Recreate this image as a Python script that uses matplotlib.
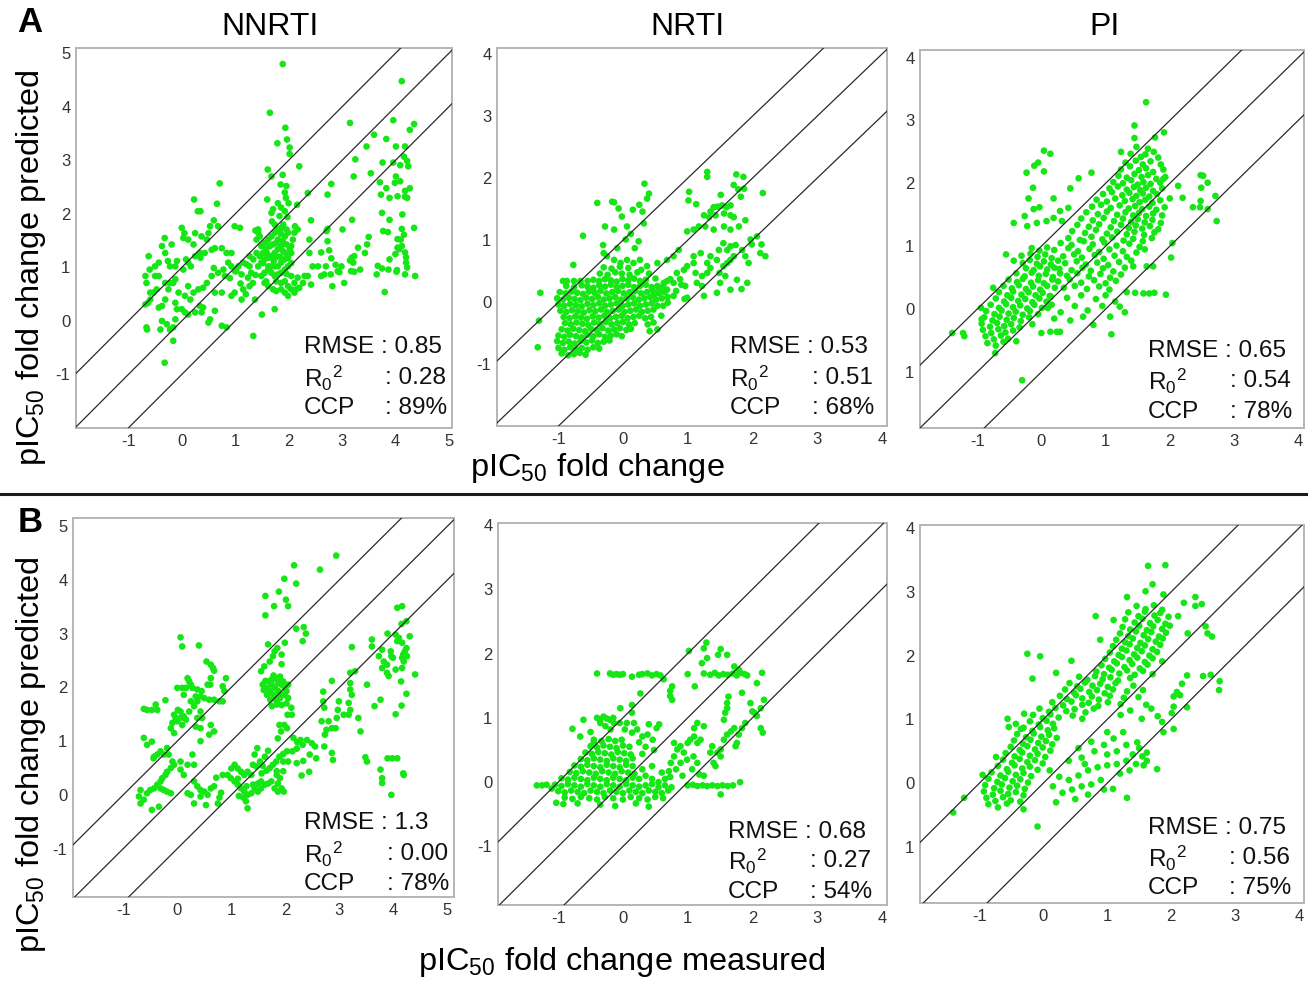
import numpy as np
import matplotlib
matplotlib.use('Agg')
import matplotlib.pyplot as plt
from matplotlib.lines import Line2D
from matplotlib.transforms import offset_copy

plt.rcParams['font.family'] = ['Liberation Sans', 'DejaVu Sans']
plt.rcParams['mathtext.fontset'] = 'custom'
plt.rcParams['mathtext.rm'] = 'Liberation Sans'
plt.rcParams['mathtext.it'] = 'Liberation Sans:italic'

# ---- data (measured, predicted) ----
nnrti_a = [
    (1.89, 4.80), (1.65, 3.89), (4.12, 4.48), (3.15, 3.70), (3.96, 3.75), (1.94, 3.61), (4.35, 3.68),
    (4.27, 3.57), (3.60, 3.48), (1.97, 3.39), (1.79, 3.32), (3.83, 3.40), (3.46, 3.26), (4.01, 3.26),
    (2.02, 3.24), (4.18, 3.26), (2.02, 3.12), (3.96, 2.96), (3.76, 2.96), (4.16, 3.07), (3.25, 3.02),
    (4.22, 2.99), (2.20, 2.89), (4.09, 2.91), (1.61, 2.83), (1.68, 2.70), (1.89, 2.73), (3.54, 2.76),
    (3.22, 2.70), (4.24, 2.89), (4.01, 2.70), (3.71, 2.59), (3.99, 2.58), (4.09, 2.61), (3.83, 2.48),
    (4.27, 2.48), (4.18, 2.43), (2.80, 2.56), (0.71, 2.57), (1.96, 2.52), (1.85, 2.55), (1.93, 2.40),
    (4.22, 2.30), (3.73, 2.36), (3.89, 2.30), (4.04, 2.33), (4.18, 2.32), (2.73, 2.36), (0.23, 2.27),
    (1.95, 2.30), (1.60, 2.27), (2.36, 2.39), (2.16, 2.17), (2.00, 2.20), (1.86, 2.12), (1.71, 2.09),
    (1.93, 2.05), (0.30, 2.05), (0.35, 2.05), (0.66, 2.19), (3.75, 2.02), (4.13, 1.99), (3.89, 1.89),
    (3.19, 1.89), (2.42, 1.88), (0.60, 1.88), (1.69, 1.86), (1.83, 1.96), (1.98, 1.94), (0.68, 1.77),
    (0.00, 1.74), (0.05, 1.64), (0.03, 1.55), (0.12, 1.52), (0.25, 1.64), (0.99, 1.77), (1.09, 1.74),
    (1.38, 1.69), (1.43, 1.71), (2.12, 1.77), (2.17, 1.71), (3.01, 1.71), (2.73, 1.72), (3.77, 1.68),
    (3.86, 1.66), (4.12, 1.72), (4.16, 1.61), (4.35, 1.74), (4.10, 1.52), (4.12, 1.40), (4.04, 1.53),
    (4.18, 1.28), (4.00, 1.25), (4.07, 1.34), (4.04, 1.37), (4.20, 1.19), (4.20, 1.09), (4.22, 1.00),
    (3.89, 1.15), (3.75, 0.98), (3.67, 1.03), (4.03, 0.95), (3.87, 0.96), (4.02, 0.92), (4.18, 0.87),
    (4.37, 0.84), (3.80, 0.54), (3.65, 0.87), (3.50, 1.57), (3.47, 1.43), (3.30, 1.37), (3.43, 1.27),
    (3.23, 1.21), (3.18, 1.18), (3.15, 1.13), (3.17, 0.93), (3.23, 0.92), (3.34, 0.96), (3.21, 1.09),
    (2.99, 1.02), (2.88, 1.05), (2.92, 0.93), (2.80, 1.17), (2.76, 1.32), (2.73, 1.49), (2.71, 1.68),
    (2.70, 1.02), (2.67, 0.87), (2.79, 0.87), (2.82, 0.65), (2.61, 0.84), (2.55, 1.02), (2.39, 1.27),
    (2.39, 1.52), (2.45, 1.02), (2.36, 0.84), (2.17, 0.81), (2.05, 0.84), (2.11, 0.71), (2.14, 0.59),
    (2.20, 0.62), (2.27, 0.71), (2.42, 0.68), (3.04, 0.71), (2.95, 0.91), (2.61, 1.28), (2.30, 0.84),
    (-0.68, 0.84), (-0.66, 0.71), (-0.60, 0.96), (-0.62, 1.21), (-0.50, 1.02), (-0.43, 1.09),
    (-0.32, 1.55), (-0.37, 1.40), (-0.31, 1.27), (-0.19, 1.43), (-0.26, 1.12), (-0.22, 1.02),
    (-0.12, 1.02), (-0.09, 1.12), (0.03, 0.96), (0.08, 1.15), (0.12, 1.09), (0.17, 1.02), (0.25, 1.21),
    (0.35, 1.18), (0.43, 1.27), (0.34, 1.27), (0.22, 1.43), (0.37, 1.58), (0.50, 1.64), (0.53, 1.77),
    (0.47, 1.52), (0.56, 1.33), (0.62, 1.36), (0.75, 1.36), (0.84, 1.27), (0.87, 1.09), (0.93, 1.27),
    (0.93, 1.02), (1.02, 0.93), (1.12, 0.87), (0.60, 0.99), (0.68, 0.90), (0.78, 0.96), (0.81, 0.84),
    (0.56, 0.84), (0.47, 0.71), (0.40, 0.62), (0.31, 0.59), (0.22, 0.53), (0.12, 0.65), (0.06, 0.47),
    (0.16, 0.40), (0.25, 0.16), (0.37, 0.16), (0.62, 0.19), (0.53, 0.03), (0.50, -0.03), (0.62, 0.53),
    (0.75, 0.53), (0.93, 0.47), (0.99, 0.53), (1.12, 0.40), (1.15, 0.59), (1.27, 0.65), (1.33, 0.71),
    (1.24, 0.81), (1.37, 0.40), (1.50, 0.12), (1.34, -0.28), (0.75, -0.09), (0.84, -0.12),
    (-0.06, 0.53), (-0.09, 0.22), (-0.12, 0.03), (-0.16, -0.12), (-0.16, -0.37), (-0.22, -0.16),
    (-0.28, -0.06), (-0.31, 0.40), (-0.37, 0.28), (-0.43, 0.25), (-0.47, 0.59), (-0.53, 0.53),
    (-0.59, 0.53), (-0.59, 0.40), (-0.63, 0.34), (-0.68, 0.31), (-0.66, -0.12), (-0.65, -0.16),
    (-0.37, 0.00), (-0.40, -0.16), (-0.32, -0.78), (-0.12, 0.34), (0.00, 0.22), (0.06, 0.16),
    (0.12, 0.12), (0.34, 0.28), (0.40, 0.25), (-0.25, 0.59), (-0.22, 0.71), (-0.16, 0.71),
    (-0.12, 0.78), (-0.31, 0.71), (-0.43, 0.84), (-0.50, 0.84),
    (1.00, 0.93), (1.06, 1.02), (1.15, 1.09), (1.21, 1.06), (1.27, 1.02), (1.43, 1.65), (1.40, 1.52),
    (1.46, 1.58), (1.49, 1.40), (1.55, 1.46), (1.62, 1.52), (1.68, 1.58), (1.74, 1.65), (1.80, 1.71),
    (1.86, 1.74), (1.96, 1.71), (1.99, 1.65), (1.93, 1.58), (1.86, 1.62), (1.80, 1.52), (1.89, 1.49),
    (1.96, 1.43), (1.86, 1.40), (1.80, 1.34), (1.74, 1.27), (1.68, 1.21), (1.62, 1.18), (1.55, 1.15),
    (1.49, 1.09), (1.43, 1.02), (1.62, 1.02), (1.68, 1.02), (1.74, 1.02), (1.80, 1.02), (1.86, 1.09),
    (1.93, 1.15), (1.99, 1.18), (2.05, 1.27), (2.02, 1.34), (2.05, 1.40), (2.08, 1.52), (2.11, 1.65),
    (1.99, 1.02), (1.93, 0.96), (1.86, 0.90), (1.80, 0.87), (1.74, 0.84), (1.68, 0.90), (1.62, 0.96),
    (1.55, 0.90), (1.49, 0.84), (1.55, 0.71), (1.62, 0.65), (1.71, 0.59), (1.77, 0.56), (1.86, 0.59),
    (1.93, 0.53), (1.99, 0.65), (2.05, 0.59), (2.11, 0.53), (1.99, 0.47), (1.74, 0.22), (1.86, 0.71),
    (1.77, 0.74), (1.93, 0.74), (1.58, 0.74), (1.52, 1.27), (1.46, 1.21), (1.40, 1.27), (1.34, 1.15),
    (1.27, 1.21), (1.58, 1.34), (1.65, 1.40), (1.71, 1.43), (1.77, 1.46), (1.74, 1.80), (1.68, 2.02),
    (1.80, 2.20), (1.90, 1.80), (1.84, 1.66), (1.78, 1.20), (1.96, 1.25), (1.90, 1.30), (1.84, 1.20),
    (1.72, 1.12), (1.60, 1.26), (1.52, 1.08), (1.96, 0.88), (2.05, 1.08), (1.20, 0.50), (1.10, 0.70),
    (0.90, 0.80), (1.30, 0.90), (1.38, 0.86),
]

nrti_a = [
    (2.16, 1.76), (1.30, 2.10), (1.30, 2.02), (1.75, 2.06), (1.86, 2.02), (0.33, 1.91), (0.40, 1.75),
    (0.37, 1.67), (0.25, 1.57), (0.15, 1.49), (-0.17, 1.62), (-0.14, 1.61), (-0.40, 1.60), (-0.07, 1.51),
    (0.30, 1.46), (1.02, 1.78), (1.01, 1.64), (1.13, 1.58), (1.51, 1.73), (1.71, 1.89), (1.78, 1.82),
    (1.82, 1.70), (1.87, 1.83), (1.40, 1.53), (1.46, 1.54), (1.53, 1.56), (1.60, 1.53), (1.66, 1.56),
    (1.35, 1.46), (1.25, 1.40), (1.33, 1.37), (1.43, 1.40), (1.56, 1.43), (1.66, 1.40), (1.71, 1.37),
    (-0.02, 1.38), (0.06, 1.22), (0.32, 1.27), (-0.28, 1.22), (-0.14, 1.17), (-0.62, 1.07), (0.12, 1.10),
    (0.04, 1.01), (0.24, 0.98), (0.18, 0.87), (-0.09, 0.87), (-0.31, 0.92), (-0.30, 0.79), (-0.25, 0.74),
    (-0.14, 0.68), (-0.04, 0.63), (0.06, 0.68), (0.16, 0.63), (0.26, 0.68), (0.37, 0.58), (0.53, 0.63),
    (0.68, 0.68), (0.78, 0.74), (0.86, 0.84), (0.99, 1.14), (1.09, 1.17), (1.17, 1.22), (1.27, 1.22),
    (1.40, 1.17), (1.56, 1.22), (1.66, 1.17), (1.79, 1.22), (1.89, 1.32), (1.48, 0.84), (1.55, 0.95),
    (1.61, 0.84), (1.66, 0.90), (1.74, 0.92), (1.84, 0.84), (1.89, 0.74), (1.94, 0.63), (2.07, 1.06),
    (2.14, 0.93), (2.12, 0.79), (2.20, 0.74), (1.97, 1.01), (1.99, 0.93), (1.49, 0.47), (1.55, 0.58),
    (1.61, 0.63), (1.66, 0.68), (1.71, 0.74), (1.50, 0.31), (1.58, 0.42), (1.66, 0.20), (1.76, 0.36),
    (1.83, 0.21), (1.92, 0.31), (1.45, 0.15), (0.78, 0.31), (0.88, 0.37), (0.96, 0.26), (0.99, 0.07),
    (0.95, 0.05), (1.14, 0.31), (1.22, 0.42), (1.30, 0.47), (1.35, 0.55), (1.09, 0.63), (1.12, 0.47),
    (1.22, 0.26), (1.25, 0.10), (0.99, 0.58), (1.09, 0.74), (1.20, 0.79), (1.30, 0.63), (1.35, 0.74),
    (1.45, 0.68), (0.53, 0.26), (0.63, 0.31), (0.73, 0.37), (0.83, 0.47), (0.94, 0.52), (0.56, 0.20),
    (0.68, 0.20), (0.78, 0.10), (0.47, 0.10), (0.59, -0.22), (0.53, -0.44), (0.47, -0.33), (0.62, -0.06),
    (0.69, -0.01), (-1.28, 0.15), (-1.30, -0.30), (-1.32, -0.73), (-0.77, 0.60), (-0.93, 0.34),
    (-0.87, 0.34), (-0.76, 0.34), (-0.66, 0.34), (-0.55, 0.34),
    (-0.95, -0.83), (-0.85, -0.86), (-0.76, -0.84), (-0.67, -0.82), (-0.58, -0.85),
    (-1.00, -0.74), (-0.91, -0.77), (-0.82, -0.73), (-0.73, -0.76), (-0.64, -0.74), (-0.55, -0.77),
    (-0.46, -0.73), (-0.37, -0.75),
    (-1.02, -0.63), (-0.93, -0.66), (-0.84, -0.64), (-0.75, -0.67), (-0.66, -0.63), (-0.57, -0.65),
    (-0.48, -0.62), (-0.39, -0.66), (-0.30, -0.64), (-0.21, -0.62),
    (-1.00, -0.54), (-0.91, -0.56), (-0.82, -0.53), (-0.73, -0.55), (-0.64, -0.57), (-0.55, -0.53),
    (-0.46, -0.55), (-0.37, -0.52), (-0.28, -0.56), (-0.19, -0.54), (-0.10, -0.52), (-0.02, -0.55),
    (-0.95, -0.44), (-0.86, -0.46), (-0.77, -0.43), (-0.68, -0.45), (-0.59, -0.47), (-0.50, -0.43),
    (-0.41, -0.45), (-0.32, -0.42), (-0.23, -0.46), (-0.14, -0.44), (-0.05, -0.42), (0.05, -0.45),
    (0.12, -0.43), (0.41, -0.47),
    (-0.90, -0.34), (-0.81, -0.36), (-0.72, -0.33), (-0.63, -0.35), (-0.54, -0.37), (-0.45, -0.33),
    (-0.36, -0.35), (-0.27, -0.32), (-0.18, -0.36), (-0.09, -0.34), (0.00, -0.32), (0.09, -0.36),
    (0.18, -0.34), (0.38, -0.36),
    (-0.92, -0.24), (-0.83, -0.26), (-0.74, -0.23), (-0.65, -0.25), (-0.56, -0.27), (-0.47, -0.23),
    (-0.38, -0.25), (-0.29, -0.22), (-0.20, -0.26), (-0.11, -0.24), (-0.02, -0.22), (0.07, -0.26),
    (0.16, -0.24), (0.25, -0.22), (0.34, -0.26), (0.43, -0.24),
    (-0.97, -0.14), (-0.88, -0.16), (-0.79, -0.13), (-0.70, -0.15), (-0.61, -0.17), (-0.52, -0.13),
    (-0.43, -0.15), (-0.34, -0.12), (-0.25, -0.16), (-0.16, -0.14), (-0.07, -0.12), (0.02, -0.16),
    (0.11, -0.14), (0.20, -0.12), (0.29, -0.16), (0.38, -0.14), (0.47, -0.12),
    (-1.00, -0.04), (-0.91, -0.06), (-0.82, -0.03), (-0.73, -0.05), (-0.64, -0.07), (-0.55, -0.03),
    (-0.46, -0.05), (-0.37, -0.02), (-0.28, -0.06), (-0.19, -0.04), (-0.10, -0.02), (-0.01, -0.06),
    (0.08, -0.04), (0.17, -0.02), (0.26, -0.06), (0.35, -0.04), (0.44, -0.02), (0.53, -0.06),
    (-1.02, 0.06), (-0.93, 0.04), (-0.84, 0.07), (-0.75, 0.05), (-0.66, 0.03), (-0.57, 0.07),
    (-0.48, 0.05), (-0.39, 0.08), (-0.30, 0.04), (-0.21, 0.06), (-0.12, 0.08), (-0.03, 0.04),
    (0.06, 0.06), (0.15, 0.08), (0.24, 0.04), (0.33, 0.06), (0.42, 0.08), (0.51, 0.04), (0.60, 0.06),
    (0.69, 0.08),
    (-0.98, 0.16), (-0.89, 0.14), (-0.80, 0.17), (-0.71, 0.15), (-0.62, 0.13), (-0.53, 0.17),
    (-0.44, 0.15), (-0.35, 0.18), (-0.26, 0.14), (-0.17, 0.16), (-0.08, 0.18), (0.01, 0.14),
    (0.10, 0.16), (0.19, 0.18), (0.28, 0.14), (0.37, 0.16), (0.46, 0.18), (0.55, 0.14), (0.64, 0.16),
    (0.82, 0.18),
    (-0.88, 0.26), (-0.76, 0.24), (-0.64, 0.27), (-0.55, 0.25), (-0.46, 0.23), (-0.37, 0.27),
    (-0.28, 0.25), (-0.19, 0.28), (-0.10, 0.24), (-0.01, 0.26), (0.08, 0.28), (0.17, 0.24),
    (0.26, 0.26), (0.35, 0.28), (0.44, 0.24), (0.62, 0.26), (0.90, 0.28),
    (-0.46, 0.36), (-0.37, 0.34), (-0.28, 0.37), (-0.19, 0.35), (-0.10, 0.33), (-0.01, 0.37),
    (0.08, 0.35), (0.17, 0.38), (0.26, 0.34), (0.35, 0.36), (0.50, 0.38), (0.68, 0.34),
    (-0.36, 0.46), (-0.24, 0.44), (-0.12, 0.48), (-0.02, 0.46), (0.10, 0.44), (0.22, 0.48), (0.40, 0.46),
    (-0.30, 0.56), (-0.18, 0.54), (-0.05, 0.57), (0.08, 0.55), (0.28, 0.52),
]

pi_a = [
    (1.63, 3.29), (1.45, 2.92), (1.91, 2.81), (1.45, 2.72), (1.77, 2.73), (0.04, 2.52), (0.14, 2.47),
    (-0.05, 2.33), (-0.11, 2.28), (-0.23, 2.17), (0.04, 2.19), (1.24, 2.50), (0.78, 2.17), (0.58, 2.08),
    (-0.13, 1.93), (0.45, 1.92), (-0.20, 1.76), (0.19, 1.76), (-0.12, 1.59), (-0.03, 1.62), (0.29, 1.56),
    (0.42, 1.61), (-0.26, 1.48), (-0.43, 1.37), (-0.22, 1.32), (-0.07, 1.37), (0.08, 1.40), (0.19, 1.45),
    (0.32, 1.40), (-0.55, 0.87), (-0.75, 0.34), (-0.94, 0.02), (-0.93, -0.16), (-1.39, -0.38),
    (-1.22, -0.38), (-1.20, -0.43), (-0.72, -0.70), (-0.30, -1.13), (0.00, -0.38), (0.14, -0.36),
    (0.24, -0.36), (0.29, -0.36), (0.81, -0.25), (1.09, -0.40), (1.07, -0.12), (1.30, -0.05),
    (1.22, 0.04), (1.33, 0.27), (1.46, 0.26), (1.59, 0.25), (1.68, 0.25), (1.76, 0.26), (1.94, 0.23),
    (1.74, 0.68), (2.02, 0.82), (2.04, 1.05), (2.73, 1.40), (2.71, 1.80), (2.59, 1.59), (2.48, 2.13),
    (2.52, 2.12), (2.59, 2.01), (2.49, 1.93), (2.48, 1.72), (2.36, 1.62), (2.47, 1.62), (2.20, 1.77),
    (2.13, 1.96), (1.90, 2.07), (1.64, 0.68), (1.61, 0.95), (1.48, 0.90), (1.43, 0.68),
    (1.48, 2.58), (1.66, 2.55), (1.75, 2.50), (1.39, 2.47), (1.55, 2.42), (1.62, 2.46), (1.82, 2.41),
    (1.31, 2.33), (1.47, 2.36), (1.58, 2.30), (1.70, 2.35), (1.86, 2.30), (1.24, 2.22), (1.38, 2.27),
    (1.52, 2.21), (1.63, 2.24), (1.74, 2.18), (1.90, 2.22), (1.20, 2.12), (1.33, 2.09), (1.45, 2.15),
    (1.56, 2.10), (1.66, 2.13), (1.79, 2.07), (1.93, 2.10), (1.12, 2.02), (1.27, 2.00), (1.40, 2.05),
    (1.50, 1.98), (1.59, 2.02), (1.70, 1.99), (1.85, 2.01), (1.06, 1.92), (1.19, 1.95), (1.33, 1.90),
    (1.44, 1.94), (1.54, 1.89), (1.63, 1.93), (1.74, 1.88), (1.88, 1.92), (0.96, 1.83), (1.10, 1.86),
    (1.26, 1.81), (1.37, 1.85), (1.48, 1.80), (1.58, 1.84), (1.68, 1.79), (1.80, 1.83), (0.86, 1.74),
    (1.02, 1.71), (1.15, 1.76), (1.30, 1.72), (1.42, 1.75), (1.53, 1.70), (1.62, 1.74), (1.73, 1.69),
    (1.85, 1.73), (2.00, 1.76), (0.79, 1.63), (0.93, 1.66), (1.08, 1.61), (1.22, 1.65), (1.36, 1.60),
    (1.46, 1.64), (1.57, 1.59), (1.68, 1.63), (1.79, 1.58), (1.92, 1.62), (0.70, 1.54), (0.88, 1.51),
    (1.02, 1.55), (1.18, 1.50), (1.31, 1.54), (1.43, 1.49), (1.52, 1.53), (1.63, 1.48), (1.74, 1.52),
    (1.88, 1.49), (0.62, 1.44), (0.80, 1.41), (0.97, 1.45), (1.13, 1.40), (1.27, 1.44), (1.40, 1.39),
    (1.50, 1.43), (1.61, 1.38), (1.73, 1.42), (1.86, 1.37), (0.56, 1.34), (0.74, 1.31), (0.90, 1.35),
    (1.08, 1.30), (1.24, 1.34), (1.36, 1.29), (1.47, 1.33), (1.57, 1.28), (1.69, 1.32), (1.82, 1.27),
    (0.48, 1.24), (0.68, 1.21), (0.85, 1.26), (1.02, 1.20), (1.18, 1.23), (1.33, 1.19), (1.45, 1.23),
    (1.60, 1.18), (1.76, 1.22), (0.42, 1.13), (0.60, 1.10), (0.78, 1.15), (0.95, 1.11), (1.10, 1.14),
    (1.28, 1.09), (1.43, 1.12), (1.58, 1.08), (1.72, 1.13),
    (0.30, 1.05), (0.47, 1.02), (0.66, 1.08), (0.80, 1.03), (0.98, 1.06), (1.17, 1.01), (1.37, 1.04),
    (1.53, 0.99), (0.20, 0.94), (0.42, 0.97), (0.57, 0.92), (0.75, 0.96), (0.90, 0.91), (1.06, 0.95),
    (1.27, 0.92), (0.34, 0.84), (0.51, 0.87), (0.63, 0.82), (0.83, 0.86), (0.97, 0.80), (1.14, 0.85),
    (1.33, 0.83), (0.37, 0.73), (0.55, 0.76), (0.69, 0.71), (0.87, 0.74), (1.04, 0.70), (1.21, 0.75),
    (1.40, 0.77), (0.28, 0.64), (0.47, 0.62), (0.64, 0.66), (0.77, 0.61), (0.96, 0.65), (1.12, 0.60),
    (1.30, 0.66), (0.40, 0.53), (0.56, 0.57), (0.74, 0.52), (0.92, 0.56), (1.07, 0.50), (1.24, 0.55),
    (0.26, 0.44), (0.44, 0.47), (0.62, 0.42), (0.82, 0.46), (1.00, 0.41), (1.16, 0.45), (0.35, 0.34),
    (0.52, 0.37), (0.71, 0.32), (0.90, 0.36), (1.06, 0.31), (0.15, 0.20), (0.40, 0.18), (0.62, 0.22),
    (0.85, 0.16), (1.00, 0.22), (1.15, 0.12), (0.10, 0.02), (0.30, -0.05), (0.52, 0.05), (0.72, -0.02),
    (0.95, 0.05), (0.20, -0.15), (0.45, -0.18), (0.65, -0.12),
    (-0.15, 0.97), (-0.03, 0.93), (0.09, 0.98), (-0.31, 0.85), (-0.17, 0.88), (-0.06, 0.83), (0.06, 0.87),
    (0.16, 0.81), (-0.43, 0.77), (-0.29, 0.73), (-0.18, 0.78), (-0.07, 0.72), (0.04, 0.76), (0.15, 0.71),
    (0.26, 0.77), (-0.24, 0.65), (-0.12, 0.62), (-0.02, 0.68), (0.09, 0.63), (0.20, 0.66), (-0.39, 0.57),
    (-0.26, 0.52), (-0.15, 0.58), (-0.04, 0.53), (0.07, 0.56), (0.18, 0.51), (0.29, 0.57), (-0.51, 0.47),
    (-0.38, 0.43), (-0.29, 0.48), (-0.16, 0.42), (-0.05, 0.46), (0.04, 0.41), (0.17, 0.47), (-0.59, 0.37),
    (-0.46, 0.33), (-0.35, 0.38), (-0.24, 0.32), (-0.13, 0.36), (-0.02, 0.31), (0.09, 0.37), (0.21, 0.34),
    (-0.66, 0.27), (-0.53, 0.22), (-0.44, 0.28), (-0.31, 0.23), (-0.20, 0.27), (-0.09, 0.22), (0.02, 0.26),
    (0.13, 0.21), (-0.71, 0.17), (-0.58, 0.12), (-0.47, 0.18), (-0.36, 0.13), (-0.25, 0.16), (-0.14, 0.11),
    (-0.03, 0.17), (0.08, 0.12), (-0.79, 0.07), (-0.66, 0.02), (-0.55, 0.08), (-0.44, 0.03), (-0.33, 0.06),
    (-0.22, 0.01), (-0.11, 0.07), (0.01, 0.02), (0.16, 0.07), (-0.86, -0.03), (-0.73, -0.08),
    (-0.62, -0.02), (-0.51, -0.07), (-0.40, -0.04), (-0.29, -0.09), (-0.18, -0.03), (-0.05, -0.08),
    (-0.89, -0.13), (-0.76, -0.18), (-0.65, -0.12), (-0.54, -0.17), (-0.43, -0.14), (-0.32, -0.19),
    (-0.19, -0.13), (-0.93, -0.23), (-0.80, -0.28), (-0.69, -0.22), (-0.58, -0.27), (-0.47, -0.24),
    (-0.34, -0.29), (-0.14, -0.24), (-0.91, -0.33), (-0.78, -0.38), (-0.67, -0.32), (-0.56, -0.37),
    (-0.44, -0.34), (-0.87, -0.43), (-0.74, -0.48), (-0.63, -0.42), (-0.52, -0.47), (-0.39, -0.51),
    (-0.84, -0.54), (-0.71, -0.58), (-0.59, -0.52),
]

nnrti_b = [
    (2.94, 4.45), (2.16, 4.27), (2.64, 4.19), (2.20, 3.93), (1.98, 4.02), (1.63, 3.70), (1.88, 3.78),
    (1.79, 3.51), (2.01, 3.63), (2.05, 3.51), (1.63, 3.34), (2.20, 3.09), (2.32, 2.86), (4.07, 3.48),
    (4.16, 3.51), (4.24, 3.23), (4.15, 3.18), (3.89, 3.00), (4.04, 2.98), (4.10, 2.92), (4.07, 2.86),
    (3.60, 2.89), (3.60, 2.76), (3.23, 2.75), (3.79, 2.70), (3.95, 2.67), (4.16, 2.83), (4.30, 2.95),
    (4.24, 2.73), (4.21, 2.67), (4.18, 2.61), (4.16, 2.55), (4.19, 2.48), (4.25, 2.58), (3.96, 2.58),
    (3.99, 2.55), (3.73, 2.58), (3.82, 2.48), (3.88, 2.42), (3.79, 2.36), (3.88, 2.27), (3.91, 2.21),
    (4.04, 2.33), (4.16, 2.36), (4.40, 2.24), (4.14, 2.11), (4.24, 1.88), (4.15, 1.66), (4.04, 1.50),
    (3.76, 1.77), (3.65, 1.65), (3.51, 2.05), (3.20, 2.27), (3.29, 2.30), (3.20, 2.08), (3.20, 1.96),
    (3.23, 1.86), (3.17, 1.71), (3.20, 1.58), (3.17, 1.49), (3.08, 1.49), (3.35, 1.43), (3.39, 1.18),
    (2.86, 2.12), (2.97, 1.58), (2.99, 1.74), (2.70, 1.74), (2.72, 1.62), (2.70, 1.92), (2.80, 1.37),
    (2.76, 1.21), (2.73, 1.12), (2.72, 0.90), (2.67, 1.37), (2.55, 0.90), (2.86, 1.24), (2.86, 0.78),
    (2.88, 0.65), (2.93, 1.24), (2.95, 1.43), (3.48, 0.70), (3.51, 0.62), (3.76, 0.47), (3.79, 0.31),
    (3.79, 0.22), (3.89, 0.68), (3.98, 0.68), (4.07, 0.68), (4.18, 0.40), (4.19, 0.37), (3.96, 0.00),
    (2.38, 3.00), (2.34, 3.12), (1.80, 2.67), (1.85, 2.73), (1.68, 2.80), (1.99, 2.83), (1.93, 2.61),
    (1.71, 2.48), (1.61, 2.39), (1.77, 2.58), (1.93, 2.43), (1.55, 2.30),
    (1.68, 2.11), (1.75, 2.05), (1.81, 1.99), (1.87, 1.93), (1.93, 1.86), (1.90, 1.80), (1.84, 1.74),
    (1.78, 1.86), (1.72, 1.93), (1.66, 1.99), (1.63, 2.12), (1.75, 2.15), (1.84, 2.15), (1.93, 2.05),
    (1.99, 1.99), (2.02, 1.93), (1.96, 2.11), (1.87, 2.08), (1.81, 1.80), (1.72, 1.77), (1.66, 1.86),
    (1.60, 1.95), (1.99, 1.86), (2.05, 2.05), (1.90, 2.20), (1.78, 2.22), (1.84, 1.68), (1.93, 1.67),
    (2.02, 1.70), (1.75, 1.65), (2.05, 1.80), (1.58, 2.05),
    (2.11, 1.62), (2.12, 1.49), (2.04, 1.49), (1.98, 1.30), (1.89, 1.30), (1.92, 1.18), (2.03, 1.24),
    (1.86, 1.05), (2.15, 1.06), (2.22, 0.98), (2.28, 1.02), (2.40, 1.02), (2.32, 0.93), (2.21, 0.86),
    (2.13, 0.81), (2.03, 0.81), (1.96, 0.76), (1.89, 0.71), (1.96, 0.62), (2.05, 0.62), (1.83, 0.62),
    (1.77, 0.56), (1.71, 0.50), (1.84, 0.44), (1.96, 0.44), (1.90, 0.31), (1.84, 0.37), (1.86, 0.21),
    (1.93, 0.12), (1.80, 0.12), (1.86, 0.06), (1.97, 0.06), (2.49, 0.96), (2.45, 0.75), (2.57, 0.68),
    (2.44, 0.43), (2.33, 0.63), (2.21, 0.59), (2.30, 0.36),
    (1.48, 0.87), (1.43, 0.75), (1.53, 0.62), (1.58, 0.54), (1.46, 0.53), (1.62, 0.71), (1.68, 0.82),
    (1.40, 0.56), (1.37, 0.37), (1.30, 0.43), (1.24, 0.37), (1.18, 0.43), (1.12, 0.49), (1.06, 0.56),
    (1.00, 0.49), (0.93, 0.37), (0.99, 0.31), (1.06, 0.25), (1.12, 0.19), (1.18, 0.12), (1.24, 0.06),
    (1.30, 0.00), (1.37, 0.03), (1.43, 0.12), (1.49, 0.21), (1.55, 0.25), (1.62, 0.19), (1.68, 0.21),
    (1.74, 0.25), (1.49, 0.06), (1.55, 0.12), (1.40, 0.19), (1.28, 0.16), (1.22, -0.05), (1.14, -0.02),
    (1.27, -0.12), (1.30, -0.25), (1.12, 0.30), (1.56, 0.40), (1.65, 0.45),
    (0.06, 2.93), (0.09, 2.76), (0.40, 2.78), (0.54, 2.48), (0.62, 2.42), (0.66, 2.36), (0.68, 2.31),
    (0.62, 2.17), (0.61, 2.05), (0.19, 2.17), (0.22, 2.11), (0.25, 2.05), (0.16, 1.99), (0.28, 1.99),
    (0.37, 1.96), (0.45, 1.93), (0.00, 1.99), (0.09, 1.99), (0.12, 1.86), (0.43, 1.83), (0.50, 1.80),
    (0.59, 1.77), (0.68, 1.77), (0.78, 1.74), (0.84, 1.74), (0.90, 2.17), (0.84, 2.02), (0.87, 1.93),
    (0.56, 2.05), (0.34, 1.83), (0.25, 1.74), (0.37, 1.74), (0.31, 1.65), (0.22, 1.55), (-0.22, 1.76),
    (-0.40, 1.68), (-0.37, 1.58), (-0.62, 1.60), (-0.56, 1.58), (-0.47, 1.58), (0.01, 1.58), (0.06, 1.55),
    (-0.06, 1.49), (-0.03, 1.43), (0.00, 1.37), (-0.09, 1.34), (-0.12, 1.24), (-0.06, 1.15), (0.06, 1.43),
    (0.12, 1.46), (0.16, 1.40), (0.09, 1.30), (0.43, 1.55), (0.46, 1.43), (0.37, 1.43), (0.34, 1.27),
    (0.43, 1.24), (0.62, 1.30), (0.68, 1.18), (0.59, 1.12), (0.43, 1.00), (-0.62, 1.06), (-0.56, 0.93),
    (-0.47, 0.99), (-0.43, 0.71), (-0.37, 0.75), (-0.44, 0.68), (-0.31, 0.81), (-0.25, 0.75),
    (-0.19, 0.87), (-0.16, 0.75), (-0.09, 0.62), (-0.06, 0.56), (-0.12, 0.50), (-0.19, 0.43),
    (-0.22, 0.37), (-0.28, 0.31), (-0.31, 0.25), (-0.37, 0.19), (-0.31, 0.12), (-0.25, 0.09),
    (-0.19, 0.06), (-0.12, 0.03), (0.06, 0.47), (0.12, 0.37), (0.19, 0.56), (0.06, 0.62), (0.28, 0.75),
    (0.31, 0.56), (-0.68, 0.09), (-0.71, -0.03), (-0.62, -0.09), (-0.56, 0.03), (-0.50, 0.09),
    (-0.43, 0.12), (-0.68, -0.16), (-0.47, -0.28), (-0.34, -0.22), (0.19, 0.03), (0.25, 0.00),
    (0.31, 0.25), (0.37, 0.16), (0.43, 0.09), (0.43, -0.03), (0.50, 0.06), (0.56, 0.00), (0.62, 0.12),
    (0.68, 0.16), (0.31, -0.16), (0.53, -0.19), (0.75, -0.16), (0.81, 0.04), (0.78, -0.05),
    (0.72, 0.32), (0.84, 0.37),
]

nrti_b = [
    (1.29, 2.17), (1.02, 2.04), (1.51, 2.07), (1.61, 1.98), (1.47, 1.98), (1.25, 2.08), (1.22, 1.85),
    (1.30, 1.93),
    (-0.40, 1.69), (-0.20, 1.69), (-0.15, 1.67), (-0.10, 1.68), (-0.05, 1.67), (0.00, 1.68),
    (0.14, 1.64), (0.25, 1.67), (0.30, 1.68), (0.38, 1.69), (0.45, 1.66), (0.52, 1.68), (0.58, 1.66),
    (1.25, 1.69), (1.35, 1.67), (1.42, 1.70), (1.48, 1.66), (1.55, 1.68), (1.62, 1.67), (1.70, 1.69),
    (1.76, 1.66), (1.82, 1.70), (1.88, 1.68), (1.92, 1.66),
    (2.15, 1.70), (1.72, 1.80), (1.79, 1.75), (0.63, 1.60), (0.76, 1.49), (1.00, 1.68), (1.11, 1.49),
    (0.73, 1.42), (0.73, 1.34), (0.76, 1.28), (0.27, 1.38), (0.14, 1.20), (0.14, 1.08), (-0.04, 1.15),
    (2.07, 1.54), (1.84, 1.39), (1.63, 1.33), (1.61, 1.23), (1.61, 1.15), (1.58, 1.08), (1.56, 0.97),
    (2.18, 1.28), (2.13, 1.15), (2.00, 1.10), (2.03, 1.08), (2.07, 1.03), (1.97, 1.23), (1.89, 0.92),
    (2.13, 0.84), (2.16, 0.77), (1.72, 0.84), (1.67, 0.79), (1.61, 0.74), (1.56, 0.66), (1.84, 0.84),
    (1.79, 0.74), (1.76, 0.61), (1.74, 0.56), (1.51, 0.51), (1.46, 0.46), (1.51, 0.40), (1.15, 0.92),
    (1.10, 0.84), (1.25, 0.87), (1.04, 0.66), (1.10, 0.71), (1.00, 0.61), (1.15, 0.61), (1.20, 0.66),
    (0.79, 0.61), (0.84, 0.51), (0.89, 0.56), (0.94, 0.46), (0.79, 0.40), (0.74, 0.30), (0.89, 0.30),
    (0.99, 0.35), (1.09, 0.40), (1.15, 0.30), (1.07, 0.20), (1.38, 0.56), (1.35, 0.46), (1.40, 0.30),
    (1.43, 0.25), (0.71, 0.17), (0.73, 0.08), (0.82, 0.20), (0.92, 0.10), (1.00, -0.05), (1.08, -0.04),
    (1.15, -0.06), (1.23, -0.05), (1.30, -0.06), (1.38, -0.05), (1.46, -0.06), (1.54, -0.05),
    (1.62, -0.06), (1.70, -0.05), (1.51, -0.19), (1.81, 0.00), (1.18, 0.12), (1.25, 0.10),
    (-0.40, 1.00), (-0.35, 0.97), (-0.30, 1.02), (-0.25, 0.99), (-0.20, 0.97), (-0.15, 1.00),
    (-0.35, 0.92), (-0.27, 0.87), (-0.19, 0.82), (-0.14, 0.92), (-0.78, 0.83), (-0.61, 0.97),
    (-0.66, 0.71), (-0.50, 0.78), (-0.45, 0.62), (-0.05, 0.92), (0.06, 0.92), (0.17, 0.92), (0.03, 0.82),
    (0.14, 0.77), (0.22, 0.82), (0.30, 0.71), (0.38, 0.74), (0.46, 0.66), (0.52, 0.84), (0.56, 0.90),
    (0.40, 0.90), (0.48, 0.50), (0.35, 0.55), (0.25, 0.62), (0.30, 0.44),
    (-0.45, 0.66), (-0.33, 0.64), (-0.22, 0.67), (-0.12, 0.64), (-0.02, 0.66),
    (-0.50, 0.56), (-0.40, 0.54), (-0.30, 0.57), (-0.20, 0.55), (-0.10, 0.53), (0.00, 0.57), (0.10, 0.55),
    (-0.58, 0.46), (-0.48, 0.44), (-0.38, 0.47), (-0.28, 0.45), (-0.18, 0.43), (-0.08, 0.47),
    (0.02, 0.45), (0.12, 0.43),
    (-0.65, 0.36), (-0.55, 0.34), (-0.45, 0.37), (-0.35, 0.35), (-0.25, 0.33), (-0.15, 0.37),
    (-0.05, 0.35), (0.05, 0.33), (0.15, 0.37),
    (-0.75, 0.26), (-0.65, 0.24), (-0.55, 0.27), (-0.45, 0.25), (-0.35, 0.23), (-0.25, 0.27),
    (-0.15, 0.25), (-0.05, 0.23), (0.05, 0.27), (0.15, 0.25),
    (-0.82, 0.16), (-0.72, 0.14), (-0.62, 0.17), (-0.52, 0.15), (-0.42, 0.13), (-0.32, 0.17),
    (-0.22, 0.15), (-0.12, 0.13), (-0.02, 0.17), (0.08, 0.15), (0.18, 0.13),
    (-0.95, 0.06), (-0.85, 0.04), (-0.75, 0.07), (-0.65, 0.05), (-0.55, 0.03), (-0.45, 0.07),
    (-0.35, 0.05), (-0.25, 0.03), (-0.15, 0.07), (-0.05, 0.05), (0.05, 0.03), (0.15, 0.07),
    (-1.05, -0.04), (-0.95, -0.06), (-0.85, -0.03), (-0.75, -0.05), (-0.65, -0.07), (-0.55, -0.03),
    (-0.45, -0.05), (-0.35, -0.07), (-0.25, -0.03), (-0.15, -0.05), (-0.05, -0.07), (0.05, -0.03),
    (0.15, -0.05), (0.25, -0.07), (0.35, -0.05), (0.45, -0.03),
    (-1.00, -0.14), (-0.90, -0.16), (-0.80, -0.13), (-0.70, -0.15), (-0.60, -0.17), (-0.50, -0.13),
    (-0.40, -0.15), (-0.30, -0.17), (-0.20, -0.13), (-0.10, -0.15), (0.00, -0.17), (0.10, -0.13),
    (0.20, -0.15), (0.30, -0.17), (0.40, -0.13), (0.50, -0.15), (0.60, -0.17), (0.70, -0.13),
    (-0.90, -0.24), (-0.78, -0.26), (-0.65, -0.23), (-0.52, -0.25), (-0.40, -0.27), (-0.28, -0.23),
    (-0.15, -0.25), (0.00, -0.27), (0.12, -0.23), (0.25, -0.25), (0.38, -0.27), (0.50, -0.23),
    (0.62, -0.25),
    (-1.03, -0.32), (-0.92, -0.34), (-0.70, -0.33), (-0.35, -0.35), (-0.12, -0.37), (0.20, -0.33),
    (0.40, -0.38),
    (0.25, 0.05), (0.35, 0.10), (0.45, 0.05), (0.55, 0.00), (0.65, 0.05), (0.30, 0.20), (0.45, 0.25),
    (0.60, 0.15), (0.55, -0.08), (0.65, -0.05), (0.75, -0.08),
    (-1.33, -0.05), (-1.25, -0.05), (-1.18, -0.04), (-1.10, -0.10),
]

pi_b = [
    (1.64, 3.41), (1.91, 3.42), (1.71, 3.12), (1.60, 3.01), (1.88, 2.96), (1.31, 2.92), (2.20, 2.83),
    (2.38, 2.92), (2.48, 2.81), (2.38, 2.78), (2.11, 2.62), (2.54, 2.46), (2.57, 2.35), (2.64, 2.30),
    (2.26, 2.35), (0.82, 2.62), (1.10, 2.56), (0.89, 2.25), (-0.25, 2.03), (-0.05, 1.99), (0.44, 1.92),
    (0.20, 1.73), (-0.17, 1.64), (2.50, 1.68), (2.62, 1.70), (2.76, 1.60), (2.75, 1.46), (2.25, 1.69),
    (2.17, 1.56), (2.09, 1.43), (2.14, 1.38), (2.04, 1.36), (2.04, 1.20), (2.01, 1.10), (2.04, 0.85),
    (2.25, 1.19), (1.88, 0.80), (1.86, 0.96), (1.78, 0.22), (1.57, 0.28), (1.62, 0.35), (1.55, 0.42),
    (1.50, 0.55), (1.47, 0.64), (1.62, 0.48), (1.31, -0.23), (1.09, -0.09), (-0.09, -0.68),
    (-1.41, -0.46), (-1.24, -0.23), (-0.95, 0.13), (-0.74, 0.41), (-0.56, 1.01), (-0.54, 0.88),
    (-0.30, 1.09), (-0.43, 0.93), (-0.35, 0.85),
    (1.46, 2.78), (1.60, 2.73), (1.73, 2.79), (1.86, 2.72), (1.33, 2.68), (1.49, 2.62), (1.59, 2.69),
    (1.74, 2.63), (1.83, 2.67), (1.96, 2.61), (1.28, 2.57), (1.43, 2.52), (1.55, 2.58), (1.67, 2.51),
    (1.79, 2.56), (1.91, 2.50), (1.24, 2.45), (1.36, 2.41), (1.50, 2.47), (1.62, 2.40), (1.72, 2.46),
    (1.86, 2.42), (1.98, 2.47), (1.20, 2.35), (1.33, 2.31), (1.45, 2.38), (1.57, 2.32), (1.69, 2.37),
    (1.81, 2.30), (1.92, 2.36), (1.14, 2.25), (1.28, 2.21), (1.40, 2.27), (1.52, 2.20), (1.64, 2.26),
    (1.76, 2.22), (1.87, 2.27), (1.09, 2.15), (1.23, 2.11), (1.35, 2.18), (1.47, 2.12), (1.59, 2.16),
    (1.71, 2.10), (1.83, 2.17), (1.04, 2.05), (1.18, 2.01), (1.30, 2.08), (1.42, 2.02), (1.54, 2.07),
    (1.66, 2.00), (1.78, 2.06), (0.97, 1.95), (1.11, 1.91), (1.23, 1.98), (1.35, 1.93), (1.47, 1.97),
    (1.59, 1.90), (1.71, 1.96), (1.86, 1.91), (0.91, 1.85), (1.03, 1.81), (1.15, 1.88), (1.27, 1.82),
    (1.39, 1.87), (1.51, 1.80), (1.63, 1.86), (0.83, 1.75), (0.95, 1.71), (1.07, 1.78), (1.19, 1.72),
    (1.31, 1.77), (1.43, 1.70), (1.56, 1.76), (1.71, 1.71),
    (0.56, 1.67), (0.69, 1.62), (0.81, 1.68), (0.93, 1.63), (1.05, 1.66), (1.17, 1.61), (1.36, 1.65),
    (0.41, 1.57), (0.53, 1.52), (0.65, 1.58), (0.77, 1.53), (0.89, 1.56), (1.01, 1.51), (1.13, 1.57),
    (1.41, 1.53), (0.34, 1.47), (0.48, 1.42), (0.58, 1.48), (0.72, 1.43), (0.84, 1.46), (0.96, 1.41),
    (1.09, 1.47), (1.31, 1.44), (1.56, 1.46), (0.26, 1.37), (0.37, 1.32), (0.51, 1.38), (0.61, 1.33),
    (0.76, 1.36), (0.87, 1.31), (1.04, 1.37), (1.26, 1.34), (1.49, 1.35), (0.14, 1.27), (0.31, 1.22),
    (0.44, 1.28), (0.61, 1.23), (0.71, 1.26), (0.86, 1.21), (1.01, 1.27), (1.21, 1.24), (1.61, 1.23),
    (-0.06, 1.17), (0.09, 1.12), (0.19, 1.18), (0.36, 1.13), (0.49, 1.16), (0.66, 1.11), (0.79, 1.17),
    (1.36, 1.14), (1.69, 1.17), (-0.16, 1.07), (-0.01, 1.02), (0.11, 1.08), (0.24, 1.03), (0.46, 1.06),
    (0.61, 1.01), (1.21, 1.07), (1.54, 1.01), (1.79, 1.05),
    (-0.21, 0.97), (-0.07, 0.92), (0.05, 0.98), (0.15, 0.93), (-0.31, 0.87), (-0.17, 0.82), (-0.05, 0.88),
    (0.07, 0.83), (0.17, 0.86), (-0.41, 0.77), (-0.27, 0.72), (-0.15, 0.78), (-0.03, 0.73), (0.09, 0.76),
    (0.21, 0.71), (-0.46, 0.67), (-0.32, 0.62), (-0.20, 0.68), (-0.08, 0.63), (0.04, 0.66), (0.14, 0.61),
    (-0.51, 0.57), (-0.37, 0.52), (-0.25, 0.58), (-0.13, 0.53), (-0.01, 0.56), (0.11, 0.51),
    (-0.59, 0.47), (-0.45, 0.42), (-0.33, 0.48), (-0.21, 0.43), (-0.09, 0.46), (0.03, 0.41),
    (-0.63, 0.37), (-0.49, 0.32), (-0.37, 0.38), (-0.25, 0.33), (-0.13, 0.36), (-0.01, 0.31),
    (-0.71, 0.27), (-0.57, 0.22), (-0.45, 0.28), (-0.33, 0.23), (-0.21, 0.26), (-0.09, 0.21),
    (-0.81, 0.17), (-0.67, 0.12), (-0.55, 0.18), (-0.43, 0.13), (-0.31, 0.16), (-0.19, 0.11),
    (-0.86, 0.07), (-0.72, 0.02), (-0.60, 0.08), (-0.48, 0.03), (-0.36, 0.06), (-0.24, 0.01),
    (-0.91, -0.03), (-0.77, -0.08), (-0.65, -0.02), (-0.53, -0.07), (-0.41, -0.04), (-0.29, -0.09),
    (-0.93, -0.13), (-0.79, -0.18), (-0.67, -0.12), (-0.55, -0.17), (-0.43, -0.14), (-0.31, -0.19),
    (-0.89, -0.23), (-0.75, -0.28), (-0.63, -0.22), (-0.51, -0.27), (-0.36, -0.29),
    (-0.86, -0.33), (-0.71, -0.38), (-0.57, -0.32), (-0.31, -0.41),
    (0.10, 0.20), (0.25, 0.10), (0.40, 0.05), (0.55, 0.12), (0.70, 0.20), (0.85, 0.25), (1.00, 0.28),
    (1.15, 0.30), (1.30, 0.35), (0.15, -0.05), (0.30, -0.15), (0.45, -0.10), (0.60, -0.05),
    (0.75, -0.02), (0.90, 0.05), (0.20, -0.30), (0.50, -0.25), (0.70, -0.18), (0.95, -0.10),
    (0.40, 0.35), (0.60, 0.40), (0.80, 0.50), (0.95, 0.60), (1.10, 0.70), (1.25, 0.80), (0.55, 0.55),
    (0.75, 0.65), (1.00, 0.80), (1.15, 0.50), (1.30, 0.60), (1.40, 0.45), (0.65, 0.30), (1.20, 0.15),
    (1.35, 0.20), (1.45, 0.30), (1.00, 0.45),
]

titles = ['NNRTI', 'NRTI', 'PI']
rmse = ['0.85', '0.53', '0.65', '1.3', '0.68', '0.75']
r0sq = ['0.28', '0.51', '0.54', '0.00', '0.27', '0.56']
ccp = ['89%', '68%', '78%', '78%', '54%', '75%']

# ---- layout (pixels) ----
W, H = 1308, 982
fig = plt.figure(figsize=(W / 100, H / 100), dpi=100)

def rect(l, t, r, b):
    return [l / W, 1 - b / H, (r - l) / W, (b - t) / H]

panels = [
    # data, box, xlim, ylim, last tick, text offsets (start, colon, rows)
    (nnrti_a, (76, 48, 452, 428), (-1.98, 5.06), (-2.0, 5.1), 5, (148, 67, (81, 50, 20))),
    (nrti_a, (497, 48, 887, 426), (-1.95, 4.08), (-2.0, 4.1), 4, (157, 75, (79, 48, 18))),
    (pi_a, (920, 50, 1304, 428), (-1.89, 4.09), (-1.89, 4.12), 4, (156, 74, (77, 47, 16))),
    (nnrti_b, (73, 518, 454, 897), (-1.93, 5.12), (-1.9, 5.15), 5, (150, 67, (74, 43, 13))),
    (nrti_b, (498, 523, 887, 905), (-1.93, 4.08), (-1.91, 4.03), 4, (159, 77, (73, 44, 13))),
    (pi_b, (920, 525, 1304, 903), (-1.93, 4.08), (-1.88, 4.05), 4, (156, 75, (75, 45, 15))),
]

green = '#16e616'
for i, (pts, box, xl, yl, tmax, toff) in enumerate(panels):
    ax = fig.add_axes(rect(*box))
    pts = np.array(pts)
    ax.scatter(pts[:, 0], pts[:, 1], s=23, color=green, edgecolors='none', zorder=2)
    for off in (-1, 0, 1):
        ax.axline((0, off), slope=1, color='#2a2a2a', lw=0.9, zorder=3)
    ax.set_xlim(*xl)
    ax.set_ylim(*yl)
    ticks = list(range(-1, tmax + 1))
    ax.set_xticks(ticks)
    ax.set_yticks(ticks)
    ax.set_xticklabels([str(t) for t in ticks])
    ylabels = [str(t) for t in ticks]
    if i % 3 == 2:
        ylabels[0] = '1'   # minus sign missing in the original
    ax.set_yticklabels(ylabels)
    ax.tick_params(length=0, labelsize=12, labelcolor='#333333', pad=4)
    for sp in ax.spines.values():
        sp.set_color('#b5b5b5')
        sp.set_linewidth(1.4)

    start, colon, rows = toff
    def tr(dx, dy):
        return offset_copy(ax.transAxes, fig=fig, x=-dx, y=dy, units='dots')
    kw = dict(fontsize=17.6, color='#111111', va='center', ha='left')
    ax.text(1, 0, 'RMSE : ' + rmse[i], transform=tr(start, rows[0]), **kw)
    ax.text(1, 0, 'R$_0$$^2$', transform=tr(start, rows[1]), **kw)
    ax.text(1, 0, ': ' + r0sq[i], transform=tr(colon, rows[1]), **kw)
    ax.text(1, 0, 'CCP', transform=tr(start, rows[2]), **kw)
    ax.text(1, 0, ': ' + ccp[i], transform=tr(colon, rows[2]), **kw)

# column titles
for x, t in zip([270, 687, 1105], titles):
    fig.text(x / W, 1 - 27 / H, t, fontsize=23, ha='center', va='center')

fig.text(30 / W, 1 - 22 / H, 'A', fontsize=25, fontweight='bold', ha='center', va='center')
fig.text(30 / W, 1 - 523 / H, 'B', fontsize=25, fontweight='bold', ha='center', va='center')

ylab = 'pIC$_{50}$ fold change predicted'
fig.text(31 / W, 1 - 268 / H, ylab, fontsize=23.4, rotation=90, ha='center', va='center')
fig.text(31 / W, 1 - 755 / H, ylab, fontsize=23.4, rotation=90, ha='center', va='center')
fig.text(597 / W, 1 - 468 / H, 'pIC$_{50}$ fold change', fontsize=23.4, ha='center', va='center')
fig.text(622 / W, 1 - 962 / H, 'pIC$_{50}$ fold change measured', fontsize=23.4, ha='center', va='center')

fig.add_artist(Line2D([0, 1], [1 - 494 / H, 1 - 494 / H], transform=fig.transFigure,
                      color='#1a1a1a', lw=2.2))

fig.savefig('out.png', dpi=100)
